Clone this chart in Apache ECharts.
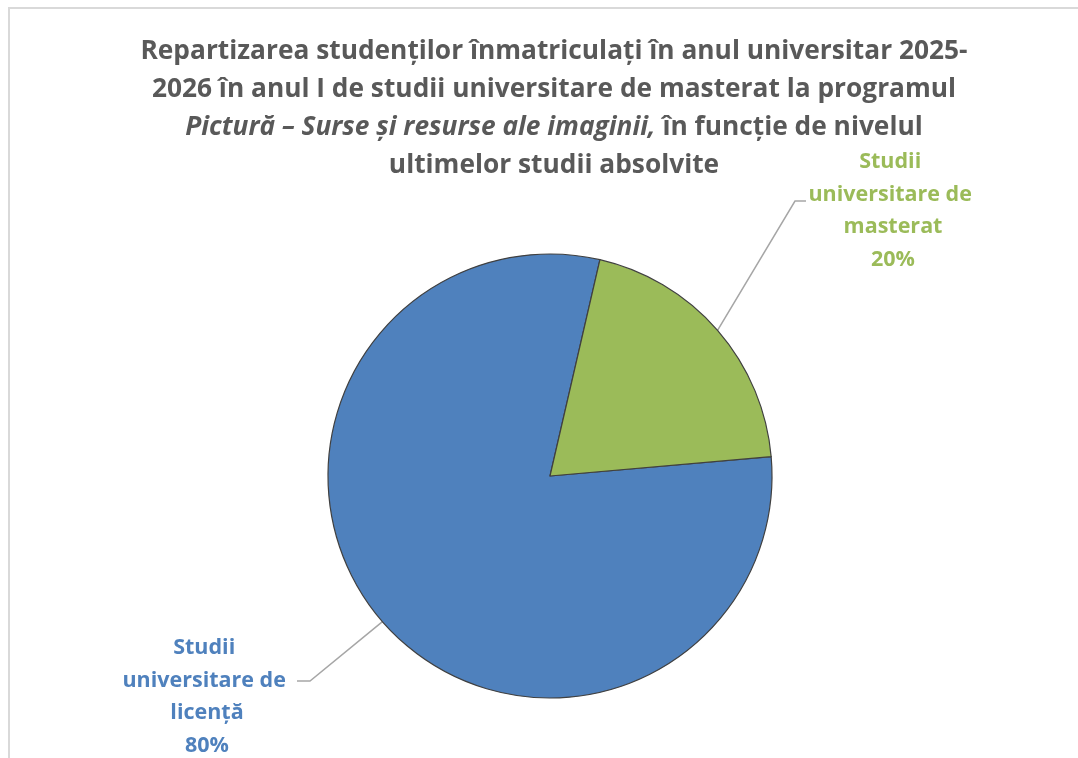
<!DOCTYPE html>
<html>
<head>
<meta charset="utf-8">
<script src="https://cdn.jsdelivr.net/npm/echarts@6/dist/echarts.min.js"></script>
<style>
  html, body { margin: 0; padding: 0; background: #fff; }
  #chart { width: 1078px; height: 758px; }
</style>
</head>
<body>
<div id="chart"></div>
<script>
// date
const categories = ['Studii universitare de licență', 'Studii universitare de masterat'];
const percents = [80, 20];
const sliceColors = ['#4F81BD', '#9BBB59'];

const titleLines = [
  'Repartizarea studenților înmatriculați în anul universitar 2025-',
  '2026 în anul I de studii universitare de masterat la programul',
  ['Pictură – Surse și resurse ale imaginii,', ' în funcție de nivelul'],
  'ultimelor studii absolvite'
];

// unde stau etichetele (centru text)
const labelSpots = [[207, 697], [893, 211]];

const chart = echarts.init(document.getElementById('chart'));

const titleText = [
  '{b|' + titleLines[0] + '}',
  '{b|' + titleLines[1] + '}',
  '{i|' + titleLines[2][0] + '}{b|' + titleLines[2][1] + '}',
  '{b|' + titleLines[3] + '}'
].join('\n');

const font = '"Open Sans", Lato, sans-serif';

const option = {
  backgroundColor: '#fff',
  title: {
    text: titleText,
    left: 554,
    top: 33,
    textAlign: 'center',
    padding: 0,
    textStyle: {
      align: 'center',
      rich: {
        b: { fontFamily: font, fontSize: 26.3, fontWeight: 'bold', color: '#595959', lineHeight: 38 },
        i: { fontFamily: font, fontSize: 26.3, fontWeight: 'bold', fontStyle: 'italic', color: '#595959', lineHeight: 38 }
      }
    }
  },
  graphic: [{
    type: 'rect',
    shape: { x: 9, y: 8, width: 1200, height: 1000 },
    style: { fill: 'none', stroke: '#D9D9D9', lineWidth: 2 },
    silent: true
  }],
  series: [{
    type: 'pie',
    center: [550, 476],
    radius: 222,
    startAngle: 5,
    clockwise: true,
    avoidLabelOverlap: false,
    itemStyle: { borderColor: '#404040', borderWidth: 1.2 },
    label: {
      show: true,
      position: 'outside',
      formatter: '{b}\n{d}%',
      fontFamily: font,
      fontSize: 21.5,
      fontWeight: 'bold',
      lineHeight: 32.5,
      width: 185,
      overflow: 'break',
      align: 'center',
      color: 'inherit'
    },
    labelLine: {
      show: true,
      length: 40,
      length2: 12,
      lineStyle: { color: '#A6A6A6', width: 1.5 }
    },
    labelLayout: function (p) {
      const c = labelSpots[p.dataIndex];
      const onLeft = c[0] < 550;
      const pts = p.labelLinePoints;
      const edgeX = onLeft ? c[0] + 90 : c[0] - 87;
      const y = c[1] - (onLeft ? 16 : 10);
      return {
        x: c[0],
        y: c[1],
        align: 'center',
        verticalAlign: 'middle',
        labelLinePoints: [pts[0], [edgeX + (onLeft ? 13 : -11), y], [edgeX, y]]
      };
    },
    data: categories.map(function (name, i) {
      return {
        name: name,
        value: percents[i],
        itemStyle: { color: sliceColors[i] },
        label: { color: sliceColors[i] }
      };
    })
  }]
};

chart.setOption(option);
</script>
</body>
</html>
